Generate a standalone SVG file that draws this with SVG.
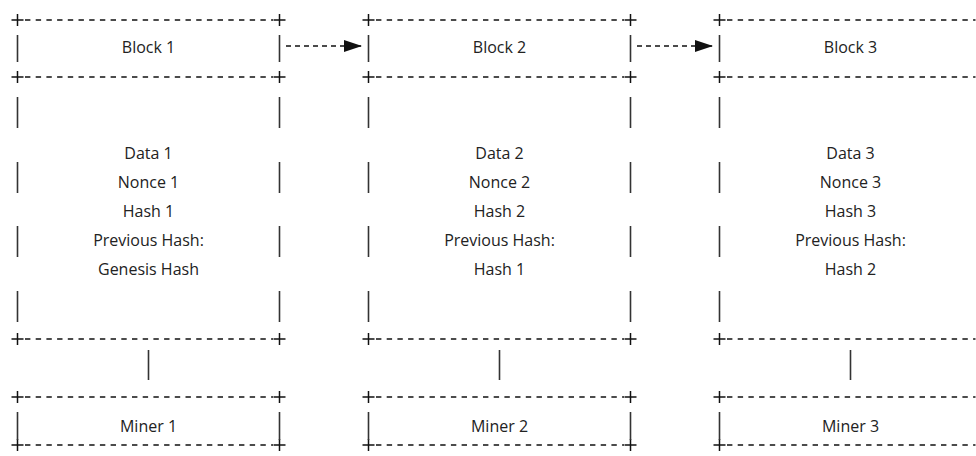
<svg xmlns="http://www.w3.org/2000/svg" width="976" height="456" viewBox="0 0 976 456">
<defs>
<style>
.h{stroke:#111;stroke-width:1.4;stroke-dasharray:5.4 5.3;fill:none}
.v{stroke:#333;stroke-width:1.6;fill:none}
.p{stroke:#111;stroke-width:1.5;fill:none}
.t{font-family:"Open Sans","Noto Sans",sans-serif;font-size:16px;fill:#222;text-anchor:middle}
.a{stroke:#111;stroke-width:1.4;stroke-dasharray:5 4;fill:none}
</style>
<path id="plus" class="p" d="M-6 0H6M0 -6V6"/>
<marker id="ah" markerWidth="18" markerHeight="12" refX="17" refY="6" orient="auto" markerUnits="userSpaceOnUse">
<path d="M0 0L18 6L0 12Z" fill="#111"/>
</marker>
<g id="blk">
<path class="h" d="M25 20H273M25 77H273M25 339H273"/>
<use href="#plus" x="17.5" y="20"/><use href="#plus" x="279.5" y="20"/>
<use href="#plus" x="17.5" y="77"/><use href="#plus" x="279.5" y="77"/>
<use href="#plus" x="17.5" y="339"/><use href="#plus" x="279.5" y="339"/>
<path class="v" d="M17.5 35V62M279.5 35V62M17.5 97V128M279.5 97V128M17.5 162V193M279.5 162V193M17.5 226V257M279.5 226V257M17.5 291V322M279.5 291V322"/>
</g>
<g id="mnr">
<path class="h" d="M25 397H273M25 445H273"/>
<use href="#plus" x="17.5" y="397"/><use href="#plus" x="279.5" y="397"/>
<use href="#plus" x="17.5" y="445"/><use href="#plus" x="279.5" y="445"/>
<path class="v" d="M17.5 412V440M279.5 412V440"/>
</g>
</defs>
<g id="block1">
<use href="#blk"/>
<text class="t" x="148.5" y="52.5">Block 1</text>
<text class="t" x="148.5" y="158.5">Data 1</text>
<text class="t" x="148.5" y="187.5">Nonce 1</text>
<text class="t" x="148.5" y="216.5">Hash 1</text>
<text class="t" x="148.5" y="245.5">Previous Hash:</text>
<text class="t" x="148.5" y="274.5">Genesis Hash</text>
</g>
<g id="block2">
<use href="#blk" x="351"/>
<text class="t" x="499.5" y="52.5">Block 2</text>
<text class="t" x="499.5" y="158.5">Data 2</text>
<text class="t" x="499.5" y="187.5">Nonce 2</text>
<text class="t" x="499.5" y="216.5">Hash 2</text>
<text class="t" x="499.5" y="245.5">Previous Hash:</text>
<text class="t" x="499.5" y="274.5">Hash 1</text>
</g>
<g id="block3">
<use href="#blk" x="702"/>
<text class="t" x="850.5" y="52.5">Block 3</text>
<text class="t" x="850.5" y="158.5">Data 3</text>
<text class="t" x="850.5" y="187.5">Nonce 3</text>
<text class="t" x="850.5" y="216.5">Hash 3</text>
<text class="t" x="850.5" y="245.5">Previous Hash:</text>
<text class="t" x="850.5" y="274.5">Hash 2</text>
</g>
<g id="miner1">
<use href="#mnr"/>
<text class="t" x="148.5" y="431.5">Miner 1</text>
</g>
<g id="miner2">
<use href="#mnr" x="351"/>
<text class="t" x="499.5" y="431.5">Miner 2</text>
</g>
<g id="miner3">
<use href="#mnr" x="702"/>
<text class="t" x="850.5" y="431.5">Miner 3</text>
</g>
<g id="connectors">
<path class="a" d="M286 46H361" marker-end="url(#ah)"/>
<path class="a" d="M637 46H712" marker-end="url(#ah)"/>
<path class="v" d="M148.5 350V380M499.5 350V380M850.5 350V380"/>
</g>
</svg>
